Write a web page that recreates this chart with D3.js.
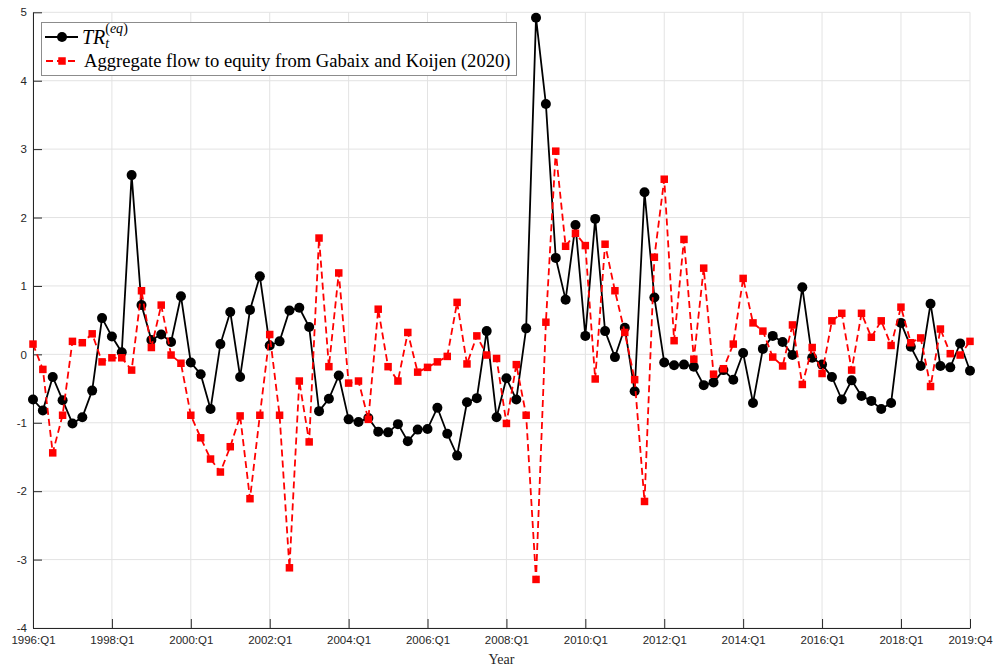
<!DOCTYPE html>
<html>
<head>
<meta charset="utf-8">
<script src="https://cdn.jsdelivr.net/npm/d3@7"></script>
<style>
  body { margin: 0; background: #fff; }
  svg { display: block; }
</style>
</head>
<body>
<div id="chart"></div>
<script>
// quarters 1996:Q1 .. 2019:Q4 (96 points)
const startYear = 1996;
const nQuarters = 96;

// TR_t^(eq), black line with circles
const trEq = [
  -0.66, -0.82, -0.33, -0.67, -1.01, -0.92, -0.53, 0.53, 0.26, 0.03,
  2.62, 0.72, 0.21, 0.29, 0.18, 0.85, -0.12, -0.29, -0.80, 0.15,
  0.62, -0.33, 0.65, 1.14, 0.13, 0.19, 0.64, 0.68, 0.40, -0.83,
  -0.65, -0.31, -0.95, -0.99, -0.93, -1.13, -1.14, -1.02, -1.27, -1.10,
  -1.09, -0.78, -1.16, -1.48, -0.70, -0.64, 0.34, -0.92, -0.35, -0.66,
  0.38, 4.92, 3.66, 1.41, 0.80, 1.89, 0.27, 1.98, 0.34, -0.04,
  0.39, -0.54, 2.37, 0.83, -0.12, -0.16, -0.15, -0.18, -0.45, -0.41,
  -0.23, -0.37, 0.02, -0.71, 0.08, 0.27, 0.18, -0.01, 0.98, -0.05,
  -0.15, -0.33, -0.66, -0.38, -0.61, -0.68, -0.80, -0.71, 0.46, 0.11,
  -0.17, 0.74, -0.17, -0.19, 0.16, -0.24
];

// Aggregate flow to equity (Gabaix and Koijen 2020), red dashed with squares
const gkFlow = [
  0.15, -0.22, -1.44, -0.89, 0.19, 0.17, 0.30, -0.11, -0.05, -0.05,
  -0.23, 0.93, 0.10, 0.72, -0.01, -0.13, -0.89, -1.22, -1.53, -1.72,
  -1.35, -0.90, -2.11, -0.89, 0.29, -0.89, -3.12, -0.39, -1.28, 1.70,
  -0.18, 1.19, -0.42, -0.39, -0.95, 0.66, -0.18, -0.39, 0.32, -0.26,
  -0.19, -0.11, -0.03, 0.76, -0.14, 0.27, -0.01, -0.06, -1.01, -0.15,
  -0.89, -3.29, 0.47, 2.97, 1.58, 1.77, 1.59, -0.36, 1.61, 0.93,
  0.32, -0.37, -2.15, 1.42, 2.56, 0.20, 1.68, -0.07, 1.26, -0.29,
  -0.21, 0.15, 1.11, 0.46, 0.34, -0.04, -0.17, 0.43, -0.44, 0.10,
  -0.28, 0.49, 0.60, -0.23, 0.60, 0.25, 0.49, 0.13, 0.69, 0.17,
  0.24, -0.47, 0.37, 0.01, -0.01, 0.19
];

const xTicks = [0, 8, 16, 24, 32, 40, 48, 56, 64, 72, 80, 88, 95];
const yTicks = [-4, -3, -2, -1, 0, 1, 2, 3, 4, 5];

function quarterLabel(i) {
  return (startYear + Math.floor(i / 4)) + ":Q" + (i % 4 + 1);
}

const width = 996, height = 668;
const pLeft = 33, pRight = 970, pTop = 12.3, pBottom = 628;

const svg = d3.select("#chart").append("svg")
  .attr("width", width).attr("height", height);

const x = d3.scaleLinear().domain([0, nQuarters - 1]).range([pLeft, pRight]);
const y = d3.scaleLinear().domain([-4, 5]).range([pBottom, pTop]);

// grid
svg.append("g").selectAll("line").data(xTicks).join("line")
  .attr("x1", d => x(d)).attr("x2", d => x(d))
  .attr("y1", pTop).attr("y2", pBottom)
  .style("stroke", "#e3e3e3").style("stroke-width", 1);
svg.append("g").selectAll("line").data(yTicks).join("line")
  .attr("x1", pLeft).attr("x2", pRight)
  .attr("y1", d => y(d)).attr("y2", d => y(d))
  .style("stroke", "#e3e3e3").style("stroke-width", 1);

// axes (MATLAB style, ticks inside)
const xAxis = d3.axisBottom(x).tickValues(xTicks).tickFormat(quarterLabel)
  .tickSizeInner(-9).tickSizeOuter(0).tickPadding(16);
const yAxis = d3.axisLeft(y).tickValues(yTicks).tickFormat(d => String(d))
  .tickSizeInner(-9).tickSizeOuter(0).tickPadding(16);

const gx = svg.append("g").attr("transform", "translate(0," + pBottom + ")").call(xAxis);
const gy = svg.append("g").attr("transform", "translate(" + pLeft + ",0)").call(yAxis);
[gx, gy].forEach(g => {
  g.select(".domain").style("stroke", "#262626").style("stroke-width", 1);
  g.selectAll(".tick line").style("stroke", "#262626");
  g.selectAll(".tick text")
    .style("font-family", "'Liberation Sans', Arial, sans-serif")
    .style("font-size", "11.5px")
    .style("fill", "#262626");
});
gx.selectAll(".tick text").attr("dy", "0.71em").attr("y", 8);
gy.selectAll(".tick text").attr("x", -6);

// x label
svg.append("text")
  .attr("x", (pLeft + pRight) / 2).attr("y", 664)
  .attr("text-anchor", "middle")
  .style("font-family", "'Liberation Serif', 'DejaVu Serif', serif")
  .style("font-size", "14px")
  .style("fill", "#262626")
  .text("Year");

// series
const line = d3.line().x((d, i) => x(i)).y(d => y(d));

svg.append("path").datum(trEq)
  .attr("d", line)
  .style("fill", "none").style("stroke", "#000").style("stroke-width", 1.8);
svg.append("g").selectAll("circle").data(trEq).join("circle")
  .attr("cx", (d, i) => x(i)).attr("cy", d => y(d)).attr("r", 5)
  .style("fill", "#000");

svg.append("path").datum(gkFlow)
  .attr("d", line)
  .style("fill", "none").style("stroke", "#ff0000").style("stroke-width", 1.8)
  .style("stroke-dasharray", "7,4");
const sq = 7.5;
svg.append("g").selectAll("rect").data(gkFlow).join("rect")
  .attr("x", (d, i) => x(i) - sq / 2).attr("y", d => y(d) - sq / 2)
  .attr("width", sq).attr("height", sq)
  .style("fill", "#ff0000");

// legend
const lg = svg.append("g");
lg.append("rect")
  .attr("x", 41.5).attr("y", 22.5).attr("width", 475).attr("height", 53)
  .style("fill", "#fff").style("stroke", "#8c8c8c").style("stroke-width", 1);

lg.append("line").attr("x1", 45).attr("x2", 78).attr("y1", 37).attr("y2", 37)
  .style("stroke", "#000").style("stroke-width", 1.8);
lg.append("circle").attr("cx", 62).attr("cy", 37).attr("r", 5).style("fill", "#000");

lg.append("line").attr("x1", 45).attr("x2", 78).attr("y1", 61).attr("y2", 61)
  .style("stroke", "#ff0000").style("stroke-width", 1.8).style("stroke-dasharray", "7,4")
  .style("stroke-dashoffset", -1);
lg.append("rect").attr("x", 62 - sq / 2).attr("y", 61 - sq / 2)
  .attr("width", sq).attr("height", sq).style("fill", "#ff0000");

const serif = "'Liberation Serif', 'DejaVu Serif', serif";
const t1 = lg.append("text").attr("x", 82).attr("y", 44)
  .style("font-family", serif).style("font-size", "20px").style("fill", "#000");
t1.append("tspan").style("font-style", "italic").text("TR");
t1.append("tspan").attr("dy", 4).style("font-style", "italic").style("font-size", "14px").text("t");
t1.append("tspan").attr("dx", -4).attr("dy", -15).style("font-size", "14px")
  .html("(<tspan font-style='italic'>eq</tspan>)");

lg.append("text").attr("x", 84).attr("y", 67)
  .style("font-family", serif).style("font-size", "18.6px").style("fill", "#000")
  .text("Aggregate flow to equity from Gabaix and Koijen (2020)");
</script>
</body>
</html>
